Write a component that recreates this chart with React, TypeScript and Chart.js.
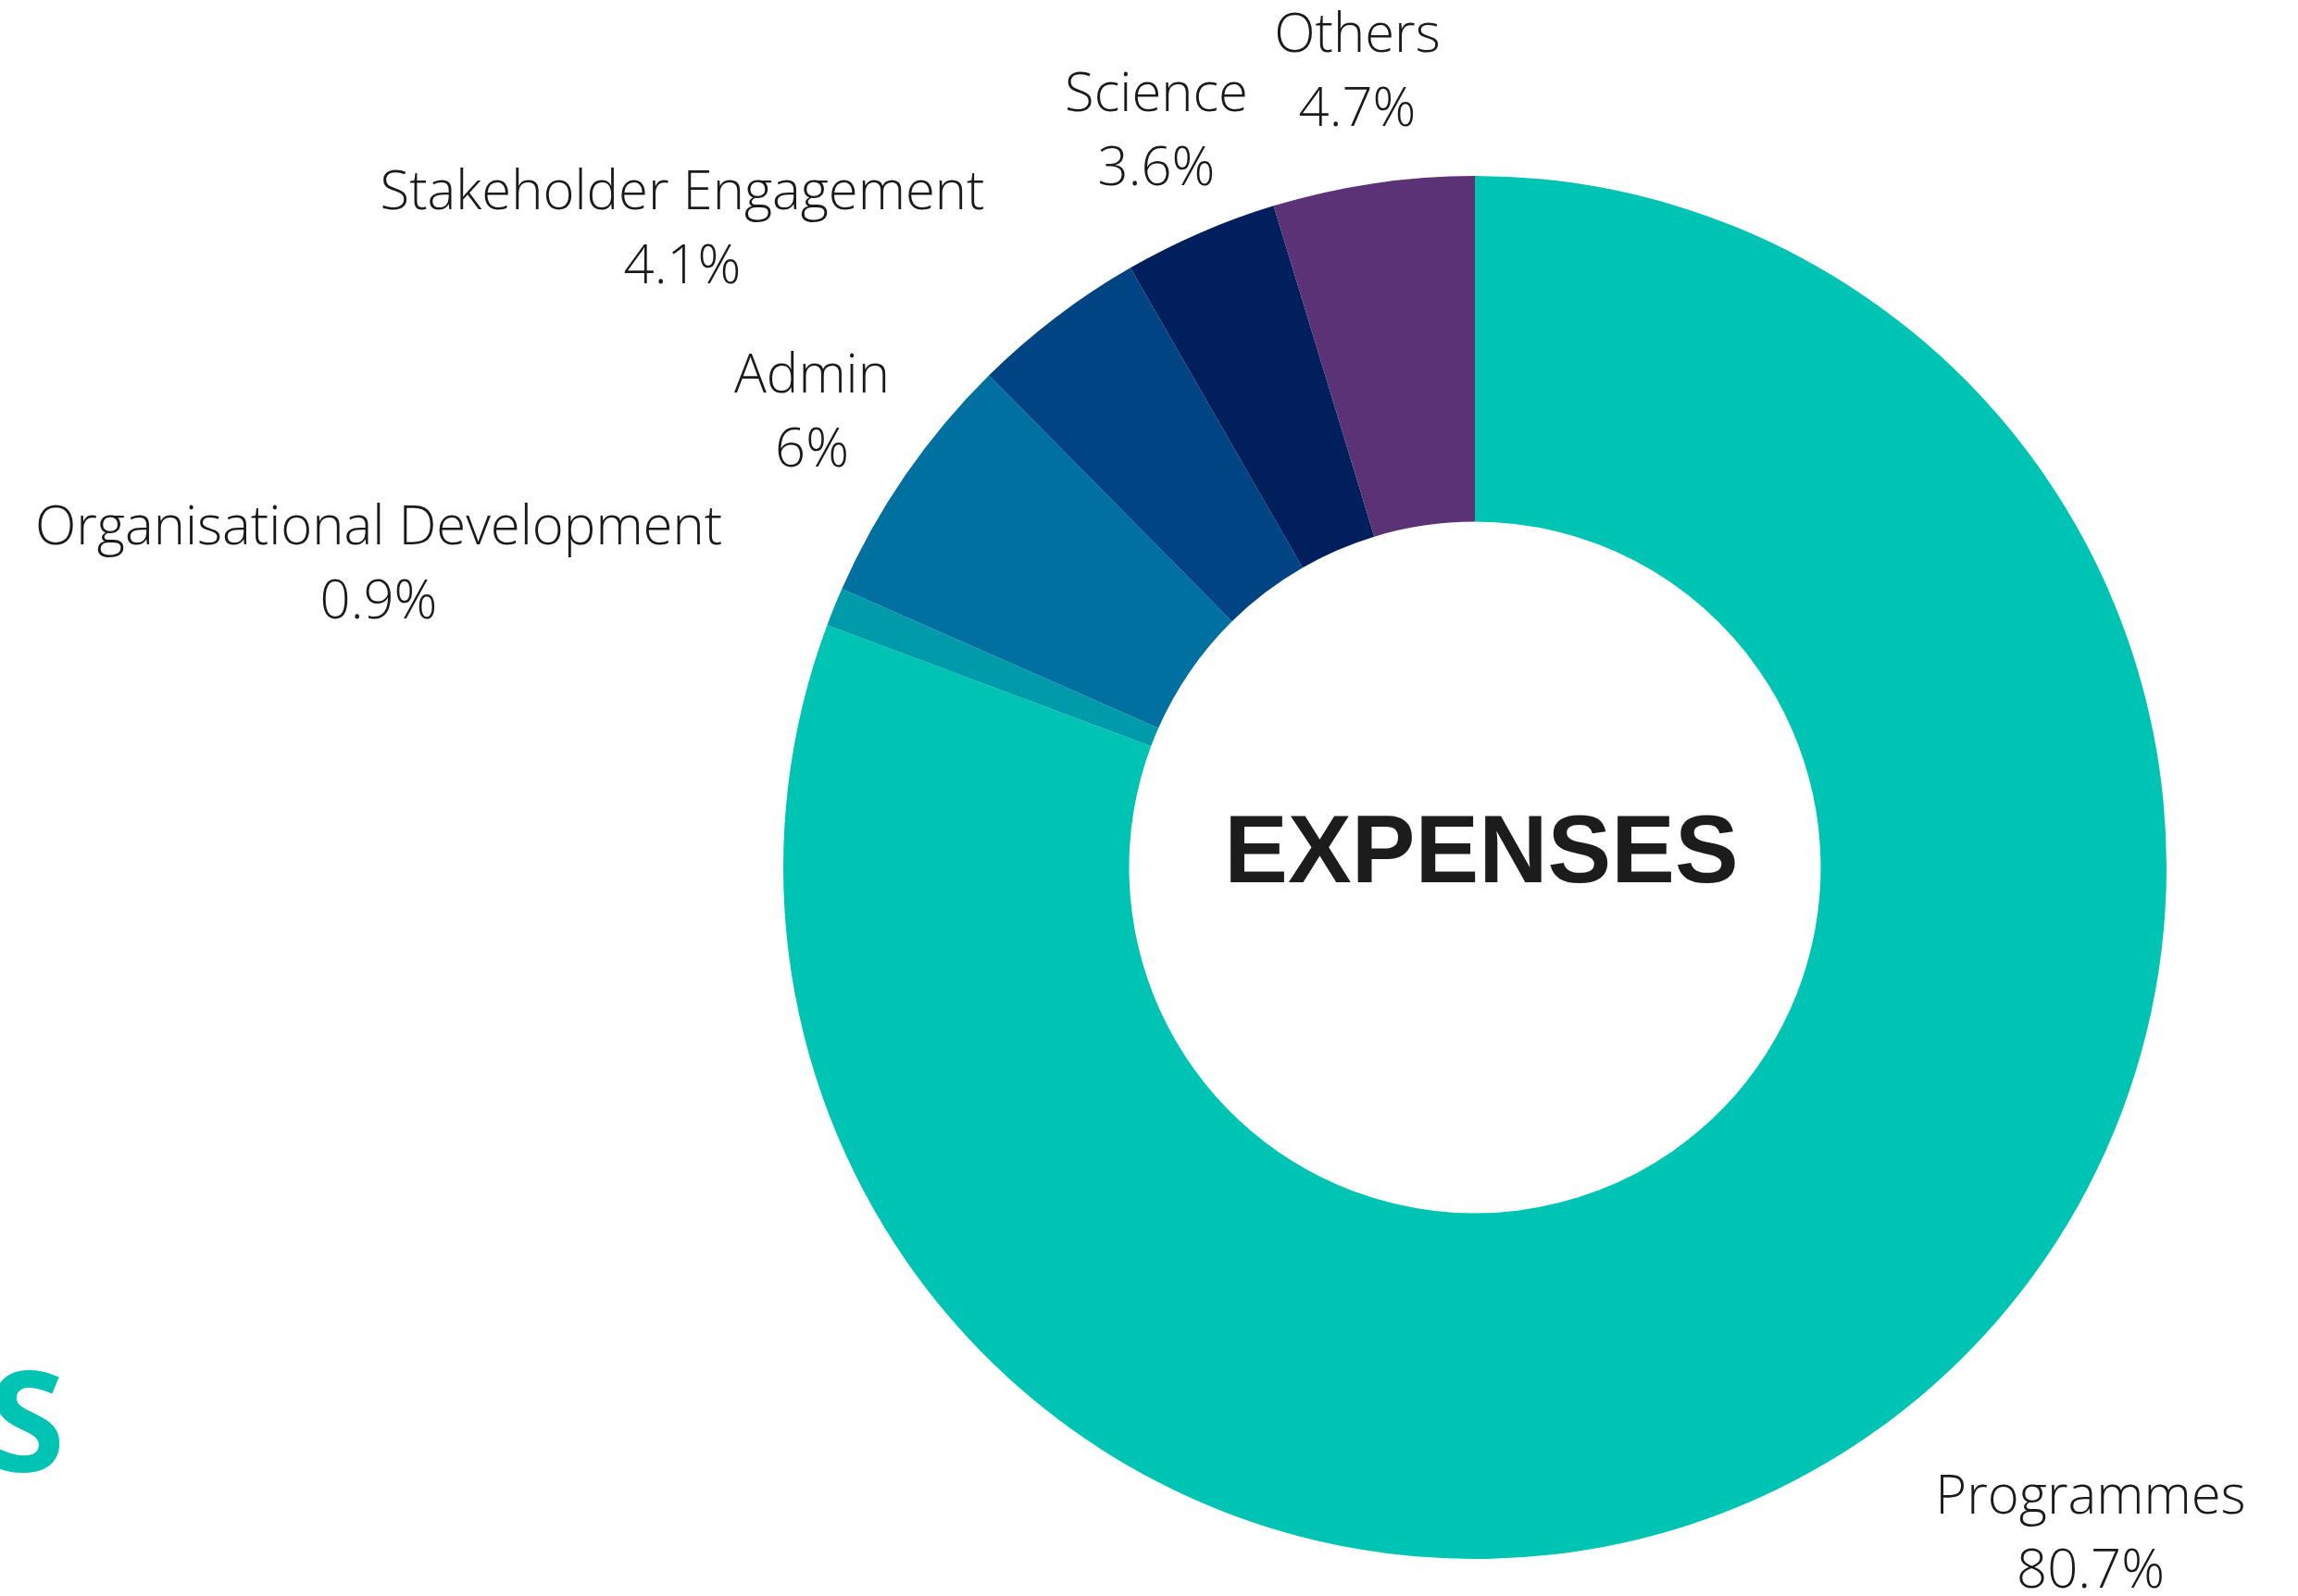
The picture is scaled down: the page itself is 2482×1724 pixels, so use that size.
import React, { useEffect, useRef } from "react";
import { Chart, registerables } from "chart.js";

Chart.register(...registerables);

const categories = [
  "Programmes",
  "Organisational Development",
  "Admin",
  "Stakeholder Engagement",
  "Science",
  "Others",
];
const values = [80.7, 0.9, 6, 4.1, 3.6, 4.7];
const colors = ["#00C4B3", "#009BAA", "#0070A0", "#014483", "#001F5C", "#5B3276"];
// label anchor offsets relative to the doughnut centre (name line centre)
const labelOffsets = [
  [665, 681],
  [-1184, -366],
  [-716, -530],
  [-856, -728],
  [-344, -834],
  [-127, -898],
];
const centerTitle = "EXPENSES";

const W = 2482;
const H = 1724;

export default function App() {
  const ref = useRef<HTMLCanvasElement | null>(null);

  useEffect(() => {
    document.body.style.margin = "0";
    const canvas = ref.current!;
    const labelPlugin = {
      id: "labelPlugin",
      afterDraw(chart: any) {
        const ctx = chart.ctx;
        const meta = chart.getDatasetMeta(0);
        const arc = meta.data[0];
        const cx = arc.x;
        const cy = arc.y;
        ctx.save();
        ctx.textAlign = "center";
        ctx.textBaseline = "middle";
        ctx.fillStyle = "#1a1a1a";
        ctx.font = "300 58px 'Open Sans'";
        categories.forEach((c, i) => {
          const [dx, dy] = labelOffsets[i];
          ctx.fillText(c, cx + dx, cy + dy);
          ctx.fillText(`${values[i]}%`, cx + dx, cy + dy + 80);
        });
        ctx.fillStyle = "#1c1c1c";
        ctx.font = "bold 103px 'Liberation Sans'";
        ctx.fillText(centerTitle, cx + 7, cy - 12);
        // partially visible heading letter at bottom left
        ctx.fillStyle = "#00C4B3";
        ctx.textAlign = "right";
        ctx.textBaseline = "alphabetic";
        ctx.font = "bold 150px 'Open Sans'";
        ctx.fillText("S", 70, 1590);
        ctx.restore();
      },
    };
    const chart = new Chart(canvas, {
      type: "doughnut",
      data: {
        labels: categories,
        datasets: [
          {
            data: values,
            backgroundColor: colors,
            borderWidth: 0,
          },
        ],
      },
      options: {
        responsive: false,
        animation: false,
        cutout: "50%",
        layout: { padding: { left: 846, right: 142, top: 190, bottom: 40 } },
        plugins: {
          legend: { display: false },
          tooltip: { enabled: false },
        },
      },
      plugins: [labelPlugin],
    });
    return () => chart.destroy();
  }, []);

  return (
    <div style={{ position: "fixed", left: 0, top: 0, width: W, height: H, background: "#fff" }}>
      <canvas ref={ref} width={W} height={H} style={{ width: W, height: H, display: "block" }} />
    </div>
  );
}
